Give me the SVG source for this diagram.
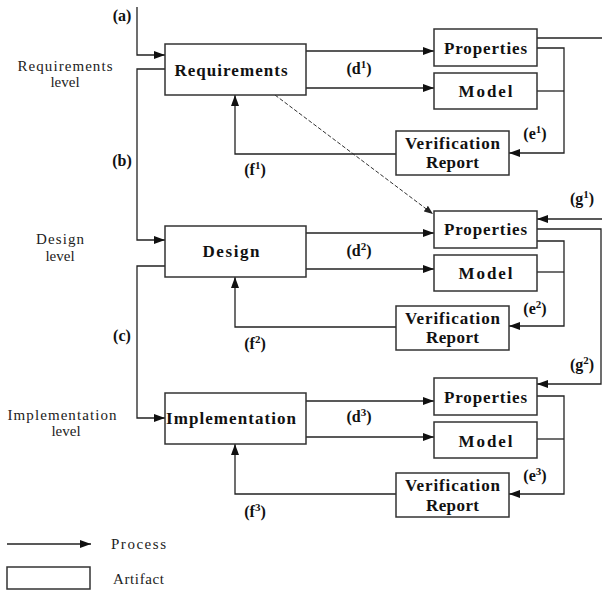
<svg xmlns="http://www.w3.org/2000/svg" width="602" height="592" viewBox="0 0 602 592" font-family="'Liberation Serif', Tinos, 'Times New Roman', Times, 'Nimbus Roman', 'Noto Serif', 'DejaVu Serif', serif">
<style>
  .box { fill: #fff; stroke: #333; stroke-width: 1.5; }
  .ln { fill: none; stroke: #222; stroke-width: 1.3; }
  .dash { fill: none; stroke: #333; stroke-width: 1; stroke-dasharray: 4 2; }
  .bt { font-weight: bold; font-size: 17px; fill: #111; text-anchor: middle; }
  .lb { font-weight: bold; font-size: 16px; fill: #111; text-anchor: middle; }
  .sup { font-size: 11px; }
  .lv { font-size: 15px; fill: #222; text-anchor: middle; }
  .lg { font-size: 15px; fill: #222; }
</style>
<defs>
  <marker id="arr" markerUnits="userSpaceOnUse" markerWidth="12" markerHeight="9" refX="11" refY="4" orient="auto">
    <path d="M0,0 L11,4 L0,8 z" fill="#111"/>
  </marker>
  <marker id="arrs" markerUnits="userSpaceOnUse" markerWidth="10" markerHeight="8" refX="9" refY="3.5" orient="auto">
    <path d="M0,0 L9,3.5 L0,7 z" fill="#222"/>
  </marker>
</defs>
<rect width="602" height="592" fill="#fff"/>

<!-- level labels -->
<g id="levels" font-family="Liberation Serif">
  <text class="lv" x="65" y="71" textLength="95" lengthAdjust="spacing">Requirements</text>
  <text class="lv" x="65" y="87">level</text>
  <text class="lv" x="60" y="244" textLength="48" lengthAdjust="spacing">Design</text>
  <text class="lv" x="60" y="261">level</text>
  <text class="lv" x="62" y="420" textLength="109" lengthAdjust="spacing">Implementation</text>
  <text class="lv" x="66" y="436">level</text>
</g>

<!-- connectors -->
<g id="connectors">
  <path class="ln" d="M137,7 V55 H165" marker-end="url(#arr)"/>
  <path class="ln" d="M165,69 H137 V240 H165" marker-end="url(#arr)"/>
  <path class="ln" d="M165,266 H137 V418 H165" marker-end="url(#arr)"/>

  <path class="ln" d="M306,51 H434" marker-end="url(#arr)"/>
  <path class="ln" d="M306,88 H434" marker-end="url(#arr)"/>
  <path class="ln" d="M306,233 H434" marker-end="url(#arr)"/>
  <path class="ln" d="M306,269 H434" marker-end="url(#arr)"/>
  <path class="ln" d="M306,401 H434" marker-end="url(#arr)"/>
  <path class="ln" d="M306,437 H434" marker-end="url(#arr)"/>

  <path class="ln" d="M537,48 H564 V153 H509" marker-end="url(#arr)"/>
  <path class="ln" d="M537,91 H564"/>
  <path class="ln" d="M537,241 H564 V326 H509" marker-end="url(#arr)"/>
  <path class="ln" d="M537,272 H564"/>
  <path class="ln" d="M537,396 H564 V494 H509" marker-end="url(#arr)"/>
  <path class="ln" d="M537,439 H564"/>

  <path class="ln" d="M396,154 H235 V95" marker-end="url(#arr)"/>
  <path class="ln" d="M396,327 H235 V277" marker-end="url(#arr)"/>
  <path class="ln" d="M396,494 H235 V444" marker-end="url(#arr)"/>

  <path class="ln" d="M537,38 H602"/>
  <path class="ln" d="M602,219 H537" marker-end="url(#arr)"/>
  <path class="ln" d="M537,229 H601 V384 H537" marker-end="url(#arr)"/>

  <path class="dash" d="M275,95 L433,214" marker-end="url(#arrs)"/>
</g>

<!-- nodes -->
<g id="requirements">
  <rect class="box" x="165" y="44" width="141" height="51"/>
  <text class="bt" x="231" y="76" textLength="113" lengthAdjust="spacing">Requirements</text>
</g>
<g id="design">
  <rect class="box" x="165" y="226" width="141" height="51"/>
  <text class="bt" x="231" y="257" textLength="57" lengthAdjust="spacing">Design</text>
</g>
<g id="implementation">
  <rect class="box" x="165" y="393" width="141" height="51"/>
  <text class="bt" x="231" y="424" textLength="130" lengthAdjust="spacing">Implementation</text>
</g>

<g id="properties1">
  <rect class="box" x="434" y="29" width="103" height="37"/>
  <text class="bt" x="485.5" y="54" textLength="83" lengthAdjust="spacing">Properties</text>
</g>
<g id="model1">
  <rect class="box" x="434" y="73" width="103" height="36"/>
  <text class="bt" x="485.5" y="97" textLength="54" lengthAdjust="spacing">Model</text>
</g>
<g id="report1">
  <rect class="box" x="396" y="131" width="113" height="44"/>
  <text class="bt" x="452.5" y="149" textLength="95" lengthAdjust="spacing">Verification</text>
  <text class="bt" x="452.5" y="168" textLength="53" lengthAdjust="spacing">Report</text>
</g>

<g id="properties2">
  <rect class="box" x="434" y="211" width="103" height="37"/>
  <text class="bt" x="485.5" y="235" textLength="83" lengthAdjust="spacing">Properties</text>
</g>
<g id="model2">
  <rect class="box" x="434" y="255" width="103" height="36"/>
  <text class="bt" x="485.5" y="279" textLength="54" lengthAdjust="spacing">Model</text>
</g>
<g id="report2">
  <rect class="box" x="396" y="306" width="113" height="44"/>
  <text class="bt" x="452.5" y="324" textLength="95" lengthAdjust="spacing">Verification</text>
  <text class="bt" x="452.5" y="343" textLength="53" lengthAdjust="spacing">Report</text>
</g>

<g id="properties3">
  <rect class="box" x="434" y="378" width="103" height="37"/>
  <text class="bt" x="485.5" y="403" textLength="83" lengthAdjust="spacing">Properties</text>
</g>
<g id="model3">
  <rect class="box" x="434" y="422" width="103" height="36"/>
  <text class="bt" x="485.5" y="447" textLength="54" lengthAdjust="spacing">Model</text>
</g>
<g id="report3">
  <rect class="box" x="396" y="473" width="113" height="44"/>
  <text class="bt" x="452.5" y="491" textLength="95" lengthAdjust="spacing">Verification</text>
  <text class="bt" x="452.5" y="511" textLength="53" lengthAdjust="spacing">Report</text>
</g>

<!-- connector labels -->
<g id="labels">
  <text class="lb" x="122" y="21">(a)</text>
  <text class="lb" x="122" y="166">(b)</text>
  <text class="lb" x="122" y="341">(c)</text>
  <text class="lb" x="359" y="74">(d<tspan class="sup" dy="-6">1</tspan><tspan dy="6">)</tspan></text>
  <text class="lb" x="359" y="256">(d<tspan class="sup" dy="-6">2</tspan><tspan dy="6">)</tspan></text>
  <text class="lb" x="359" y="422">(d<tspan class="sup" dy="-6">3</tspan><tspan dy="6">)</tspan></text>
  <text class="lb" x="535" y="139">(e<tspan class="sup" dy="-6">1</tspan><tspan dy="6">)</tspan></text>
  <text class="lb" x="535" y="314">(e<tspan class="sup" dy="-6">2</tspan><tspan dy="6">)</tspan></text>
  <text class="lb" x="535" y="481">(e<tspan class="sup" dy="-6">3</tspan><tspan dy="6">)</tspan></text>
  <text class="lb" x="255" y="175">(f<tspan class="sup" dy="-6">1</tspan><tspan dy="6">)</tspan></text>
  <text class="lb" x="255" y="349">(f<tspan class="sup" dy="-6">2</tspan><tspan dy="6">)</tspan></text>
  <text class="lb" x="255" y="517">(f<tspan class="sup" dy="-6">3</tspan><tspan dy="6">)</tspan></text>
  <text class="lb" x="582" y="204">(g<tspan class="sup" dy="-6">1</tspan><tspan dy="6">)</tspan></text>
  <text class="lb" x="582" y="370">(g<tspan class="sup" dy="-6">2</tspan><tspan dy="6">)</tspan></text>
</g>

<!-- legend -->
<g id="legend">
  <path class="ln" d="M7,544 H91" marker-end="url(#arr)"/>
  <text class="lg" x="111" y="549" textLength="55" lengthAdjust="spacing">Process</text>
  <rect class="box" x="7" y="567" width="83" height="22"/>
  <text class="lg" x="113" y="584" textLength="51" lengthAdjust="spacing">Artifact</text>
</g>
</svg>
